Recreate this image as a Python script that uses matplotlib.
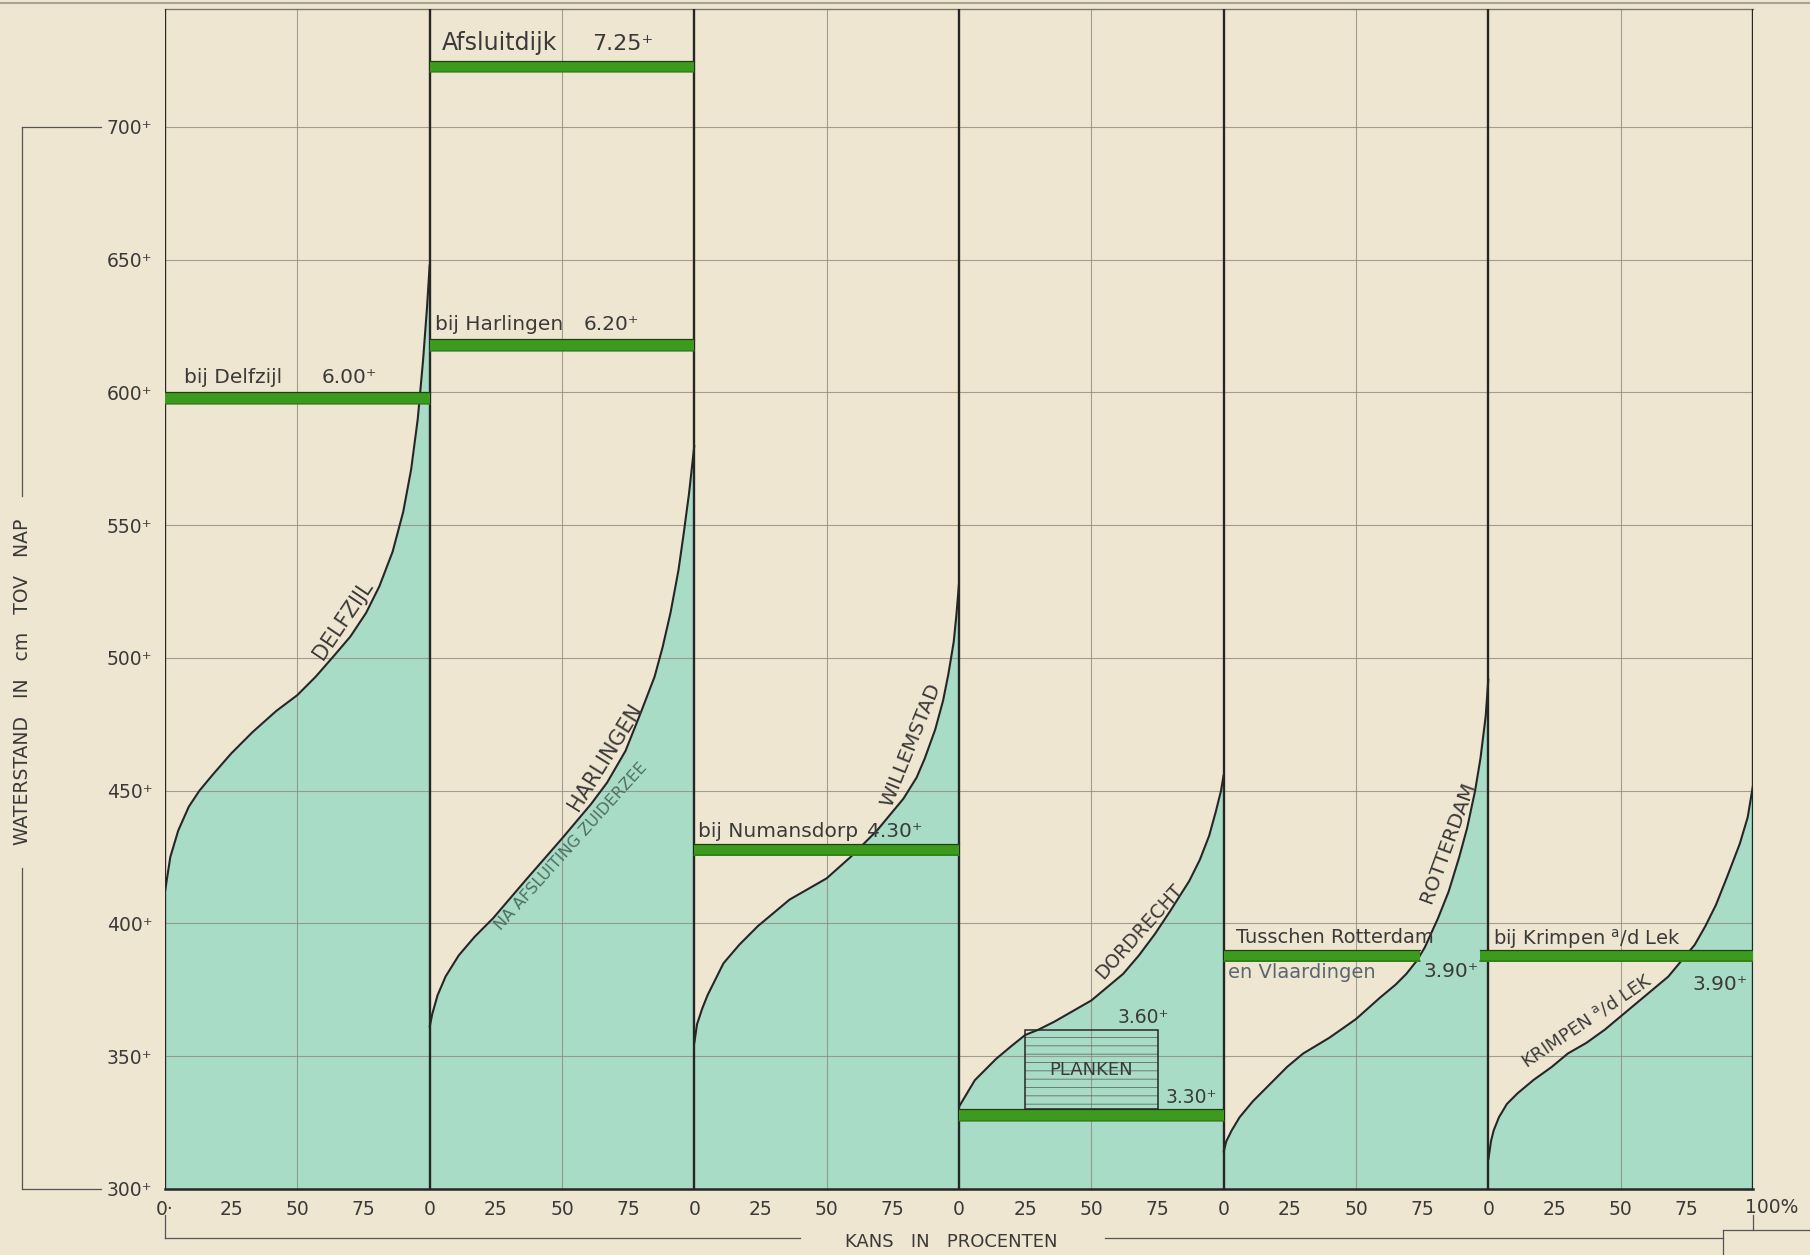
"""Waterstanden langs de kust en de rivieren: kans-curves per meetpunt."""

import matplotlib
import matplotlib.pyplot as plt
import numpy as np
from matplotlib.patches import Rectangle

matplotlib.use('Agg')

# Colours
PAPER = '#efe6d1'
WATER = '#a9dcc6'
BAND = '#3c9a1e'
BAND_EDGE = '#22400e'
INK = '#262626'
TEXT = '#3a3a3a'
GRID = '#8f8b80'

# Frequency curves (percentage, water level in cm above NAP)
delfzijl_pct = [0, 2, 5, 9, 13, 18, 25, 33, 42, 50, 57, 64, 70, 76, 81, 86, 90, 93, 95.5, 97.5, 99, 100]
delfzijl_cm = [412, 425, 435, 444, 450, 456, 464, 472, 480, 486, 493, 501, 508, 517, 527, 540, 555, 571, 590, 612, 632, 648]

harlingen_pct = [0, 1, 3, 6, 11, 17, 24, 36, 50, 61, 67, 74, 80, 85, 88, 91, 94, 96, 98, 99, 100]
harlingen_cm = [361, 366, 373, 380, 388, 395, 402, 416, 432, 445, 453, 465, 480, 493, 504, 517, 533, 547, 562, 571, 580]

willemstad_pct = [0, 1, 3, 5, 8, 11, 17, 24, 36, 50, 59, 69, 79, 84, 87, 91, 94, 96, 98, 99, 100]
willemstad_cm = [355, 362, 368, 373, 379, 385, 392, 399, 409, 417, 425, 435, 447, 455, 462, 473, 484, 494, 506, 516, 528]

dordrecht_pct = [0, 3, 6, 10, 14, 20, 25, 30, 36, 43, 50, 56, 62, 68, 74, 80, 87, 91, 94.5, 97, 99, 100]
dordrecht_cm = [331, 336, 341, 345, 349, 354, 358, 360, 363, 367, 371, 376, 381, 388, 396, 405, 416, 424, 433, 442, 450, 456]

rotterdam_pct = [0, 1, 3, 6, 11, 18, 24, 30, 40, 50, 59, 65, 69, 73, 76, 81, 85, 89, 92, 95, 97, 99, 100]
rotterdam_cm = [314, 318, 322, 327, 333, 340, 346, 351, 357, 364, 372, 377, 381, 386, 391, 402, 412, 425, 436, 450, 462, 478, 492]

krimpen_pct = [0, 1, 2, 4, 7, 11, 17, 24, 30, 37, 44, 50, 56, 62, 68, 73, 78, 82, 86, 90, 95, 98, 100]
krimpen_cm = [311, 318, 322, 327, 332, 336, 341, 346, 351, 355, 360, 365, 370, 375, 380, 386, 392, 399, 407, 417, 430, 440, 452]

curve_pct = [delfzijl_pct, harlingen_pct, willemstad_pct, dordrecht_pct, rotterdam_pct, krimpen_pct]
curve_cm = [delfzijl_cm, harlingen_cm, willemstad_cm, dordrecht_cm, rotterdam_cm, krimpen_cm]
curve_names = ['DELFZIJL', 'HARLINGEN', 'WILLEMSTAD', 'DORDRECHT', 'ROTTERDAM',
               'KRIMPEN $^{\\mathrm{a}}$/d LEK']

# Dike crest levels (green bands): panel, level in cm, start/end percentage
crest_panel = [0, 1, 1, 2, 3, 4, 5]
crest_cm = [600, 725, 620, 430, 330, 390, 390]
crest_from = [0, 0, 0, 0, 0, 0, -3]
crest_to = [100, 100, 100, 100, 100, 74, 100]

# Planken (boards) on top of the Dordrecht quay
planken_cm = [330, 360]
planken_pct = [25, 75]

y_ticks = [300, 350, 400, 450, 500, 550, 600, 650, 700]
x_tick_pct = [0, 25, 50, 75]

PANEL = 100
N_PANELS = len(curve_names)

fig = plt.figure(figsize=(18.10, 12.55), dpi=100, facecolor=PAPER)
ax = fig.add_axes([165 / 1810, 1 - 1189 / 1255, 1588 / 1810, 1180 / 1255])
ax.set_facecolor(PAPER)
ax.set_xlim(0, N_PANELS * PANEL)
ax.set_ylim(300, 744.4)

for side in ['left', 'right']:
    ax.spines[side].set_visible(False)
ax.spines['bottom'].set_color(INK)
ax.spines['bottom'].set_linewidth(1.8)
ax.spines['top'].set_color('#7d786c')
ax.spines['top'].set_linewidth(1.0)

# water-filled areas and curves
for i in range(N_PANELS):
    gx = i * PANEL + np.array(curve_pct[i])
    cm = np.array(curve_cm[i])
    ax.fill_between(gx, 300, cm, color=WATER, lw=0, zorder=1)
    ax.plot(gx, cm, color=INK, lw=1.5, zorder=4, solid_capstyle='round', solid_joinstyle='round')

# grid
for v in y_ticks[1:]:
    ax.axhline(v, color=GRID, lw=0.8, alpha=0.8, zorder=2)
for i in range(N_PANELS):
    ax.axvline(i * PANEL + 50, color=GRID, lw=0.8, alpha=0.8, zorder=2)
for i in range(N_PANELS + 1):
    ax.axvline(i * PANEL, color=INK, lw=1.7, zorder=5)

# green crest bands
for p, v, s, e in zip(crest_panel, crest_cm, crest_from, crest_to):
    xs = [p * PANEL + s, p * PANEL + e]
    ax.fill_between(xs, v - 4.5, v, color=BAND, lw=0, zorder=6)
    ax.plot(xs, [v, v], color=BAND_EDGE, lw=0.9, zorder=6)
    ax.plot(xs, [v - 4.3, v - 4.3], color='#2b7514', lw=1.2, alpha=0.7, zorder=6)

# planken box
px0 = 3 * PANEL + planken_pct[0]
pw = planken_pct[1] - planken_pct[0]
ph = planken_cm[1] - planken_cm[0]
plt.rcParams['hatch.linewidth'] = 0.6
ax.add_patch(Rectangle((px0, planken_cm[0]), pw, ph, facecolor='none',
                       edgecolor='#5d6d67', hatch='--', lw=0, zorder=6))
ax.add_patch(Rectangle((px0, planken_cm[0]), pw, ph, facecolor='none',
                       edgecolor=INK, lw=1.1, zorder=7))
ax.text(px0 + pw / 2, planken_cm[0] + ph / 2, 'PLANKEN', ha='center', va='center',
        fontsize=13, color=TEXT, zorder=8)

# curve labels, written along the curve
label_at = [72, 71, 88, 72, 90, 41]
label_angle = [56, 58, 68, 48, 70, 34]
label_size = [15, 15, 14.5, 13.5, 14.5, 13]
label_off = [4, 3, 5.5, 3, 4, 6]
for i in range(N_PANELS):
    pct = np.array(curve_pct[i], dtype=float)
    cm = np.array(curve_cm[i], dtype=float)
    a = label_at[i]
    ang = label_angle[i]
    off = label_off[i]
    ax.annotate(curve_names[i], xy=(i * PANEL + a, np.interp(a, pct, cm)),
                xytext=(-off * np.sin(np.radians(ang)), off * np.cos(np.radians(ang))),
                textcoords='offset points', rotation=ang, rotation_mode='anchor',
                ha='center', va='bottom', fontsize=label_size[i], color=TEXT, zorder=8)

# "na afsluiting Zuiderzee" below the Harlingen curve
a = 50
ang = 48
ax.annotate('NA AFSLUITING ZUIDERZEE', xy=(PANEL + a, np.interp(a, harlingen_pct, harlingen_cm)),
            xytext=(3 * np.sin(np.radians(ang)), -3 * np.cos(np.radians(ang))),
            textcoords='offset points', rotation=ang, rotation_mode='anchor',
            ha='center', va='top', fontsize=11.5, color='#4f6f66', zorder=8)


# level labels
def level_text(panel, pct, cm, s, size=14.5, va='baseline', color=TEXT):
    ax.text(panel * PANEL + pct, cm, s, fontsize=size, va=va, ha='left', color=color, zorder=8)


level_text(1, 4.7, 729, 'Afsluitdijk', size=17)
level_text(1, 61.4, 729, '7.25⁺', size=16)
level_text(1, 2.1, 623.5, 'bij Harlingen')
level_text(1, 58.1, 623.5, '6.20⁺')
level_text(0, 7.0, 603.5, 'bij Delfzijl')
level_text(0, 59.0, 603.5, '6.00⁺')
level_text(2, 1.5, 432.5, 'bij Numansdorp')
level_text(2, 65.4, 432.5, '4.30⁺')
level_text(4, 4.5, 392.5, 'Tusschen Rotterdam', size=14)
level_text(4, 1.5, 385, 'en Vlaardingen', size=14, va='top', color='#5a6670')
level_text(4, 75.6, 385.5, '3.90⁺', size=14.5, va='top')
level_text(5, 1.7, 392, 'bij Krimpen $^{\\mathrm{a}}$/d Lek', size=14)
level_text(5, 77.0, 375, '3.90⁺')
level_text(3, 60.0, 362.5, '3.60⁺', size=13.5)
level_text(3, 78.0, 332.5, '3.30⁺', size=13.5)

# ticks
xt, xl = [], []
for i in range(N_PANELS):
    for t in x_tick_pct:
        xt.append(i * PANEL + t)
        xl.append(str(t))
xl[0] = '0·'
ax.set_xticks(xt)
ax.set_xticklabels(xl, fontsize=13.5, color=TEXT)
ax.tick_params(axis='x', length=0, pad=8)
ax.text(N_PANELS * PANEL - 3, -0.0155, '100%', transform=ax.get_xaxis_transform(),
        ha='left', va='center', fontsize=13.5, color=TEXT)

ax.set_yticks(y_ticks)
ax.set_yticklabels([f'{v}⁺' for v in y_ticks], fontsize=13.5, color=TEXT)
ax.tick_params(axis='y', length=0, pad=9)

# y-axis title with bracket
yt = ax.get_yaxis_transform()
bx = -0.090
for v in [y_ticks[0], y_ticks[-1]]:
    ax.plot([bx, -0.040], [v, v], color='#555', lw=0.9, transform=yt, clip_on=False)
ax.plot([bx, bx], [700, 561], color='#555', lw=0.9, transform=yt, clip_on=False)
ax.plot([bx, bx], [421, 300], color='#555', lw=0.9, transform=yt, clip_on=False)
ax.text(bx, 491, 'WATERSTAND   IN   cm   TOV   NAP', transform=yt, rotation=90,
        ha='center', va='center', fontsize=13.5, color=TEXT)

# x-axis title with bracket
xtr = ax.get_xaxis_transform()
ly = -0.0415
ax.plot([0, 240], [ly, ly], color='#555', lw=0.9, transform=xtr, clip_on=False)
ax.plot([355, 588.7], [ly, ly], color='#555', lw=0.9, transform=xtr, clip_on=False)
ax.plot([0, 0], [ly, -0.022], color='#555', lw=0.9, transform=xtr, clip_on=False)
ax.plot([588.7, 588.7], [-0.035, -0.06], color='#555', lw=0.9, transform=xtr, clip_on=False)
ax.plot([588.7, 625], [-0.035, -0.035], color='#555', lw=0.9, transform=xtr, clip_on=False)
ax.plot([600, 600], [-0.035, -0.022], color='#555', lw=0.9, transform=xtr, clip_on=False)
ax.text(297, -0.045, 'KANS   IN   PROCENTEN', transform=xtr, ha='center', va='center',
        fontsize=13, color=TEXT)

# double rule at the top of the sheet
fig.add_artist(plt.Line2D([0, 1], [0.9975, 0.9975], color='#a9a290', lw=1.5))

fig.savefig('out.png', dpi=100, facecolor=PAPER)
